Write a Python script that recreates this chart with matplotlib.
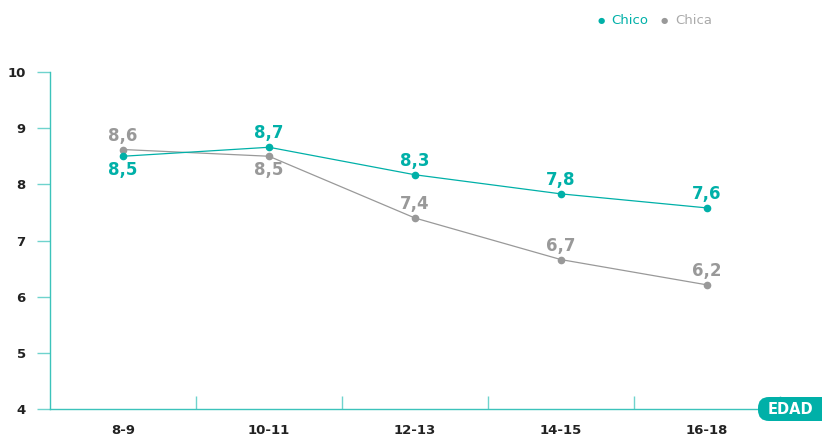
import matplotlib
matplotlib.use("Agg")
import matplotlib.pyplot as plt
from matplotlib.ticker import FixedLocator
from matplotlib.patches import FancyBboxPatch

categories = ["8-9", "10-11", "12-13", "14-15", "16-18"]
chico = [8.5, 8.66, 8.17, 7.83, 7.58]
chica = [8.62, 8.5, 7.4, 6.66, 6.21]
chico_labels = ["8,5", "8,7", "8,3", "7,8", "7,6"]
chica_labels = ["8,6", "8,5", "7,4", "6,7", "6,2"]
chico_above = [False, True, True, True, True]
chica_above = [True, False, True, True, True]
yticks = [4, 5, 6, 7, 8, 9, 10]

TEAL = "#00b0a8"
AXIS = "#3cc3bb"
TICK = "#6fd3cd"
GRAY = "#999999"
DARK = "#222222"

plt.rcParams['font.family'] = ['DejaVu Sans']
fig = plt.figure(figsize=(8.22, 4.38), dpi=100)
ax = fig.add_axes([50/822, 29/438, 730/822, 337/438])

x = list(range(len(categories)))
ax.plot(x, chica, color=GRAY, lw=0.9, marker="o", ms=4.5, zorder=3)
ax.plot(x, chico, color=TEAL, lw=0.9, marker="o", ms=4.5, zorder=4)

for xi, v, lab, up in zip(x, chico, chico_labels, chico_above):
    ax.annotate(lab, (xi, v), xytext=(0, 3.5 if up else -3.5), textcoords="offset points",
                ha="center", va="bottom" if up else "top", color=TEAL,
                fontsize=12, fontweight="bold")
for xi, v, lab, up in zip(x, chica, chica_labels, chica_above):
    ax.annotate(lab, (xi, v), xytext=(0, 3.5 if up else -3.5), textcoords="offset points",
                ha="center", va="bottom" if up else "top", color=GRAY,
                fontsize=12, fontweight="bold")

ax.set_xlim(-0.5, len(categories) - 0.5)
ax.set_ylim(4, 10)
for s in ["top", "right"]:
    ax.spines[s].set_visible(False)
ax.spines["left"].set_color(AXIS)
ax.spines["bottom"].set_color(AXIS)
ax.spines["left"].set_linewidth(1.0)
ax.spines["bottom"].set_linewidth(1.0)

ax.set_yticks(yticks)
ax.set_yticklabels([str(t) for t in yticks], fontsize=9.5, fontweight="bold", color=DARK)
ax.tick_params(axis="y", direction="out", length=9.5, width=1.0, color=TICK, pad=8)

ax.set_xticks(x)
ax.set_xticklabels(categories, fontsize=9.5, fontweight="bold", color=DARK)
ax.tick_params(axis="x", which="major", length=0, pad=11)
ax.xaxis.set_minor_locator(FixedLocator([i + 0.5 for i in range(len(categories))]))
ax.tick_params(axis="x", which="minor", direction="in", length=9.5, width=1.0, color=TICK)

box = FancyBboxPatch((7.58, (438 - 421) / 100), 0.9, 0.24,
                     boxstyle="round,pad=0,rounding_size=0.11",
                     transform=fig.dpi_scale_trans, fc=TEAL, ec="none",
                     clip_on=False, zorder=5)
fig.add_artist(box)
fig.text(790/822, 1 - 409/438, "EDAD", ha="center", va="center", color="white",
         fontsize=10.5, fontweight="bold", zorder=6)

fig.text(601/822, 1 - 21/438, "●", ha="center", va="center", color=TEAL, fontsize=6)
fig.text(611/822, 1 - 21/438, "Chico", ha="left", va="center", color=TEAL, fontsize=9.5)
fig.text(664/822, 1 - 21/438, "●", ha="center", va="center", color=GRAY, fontsize=6)
fig.text(675/822, 1 - 21/438, "Chica", ha="left", va="center", color="#aaaaaa", fontsize=9.5)

fig.savefig("out.png", dpi=100)
